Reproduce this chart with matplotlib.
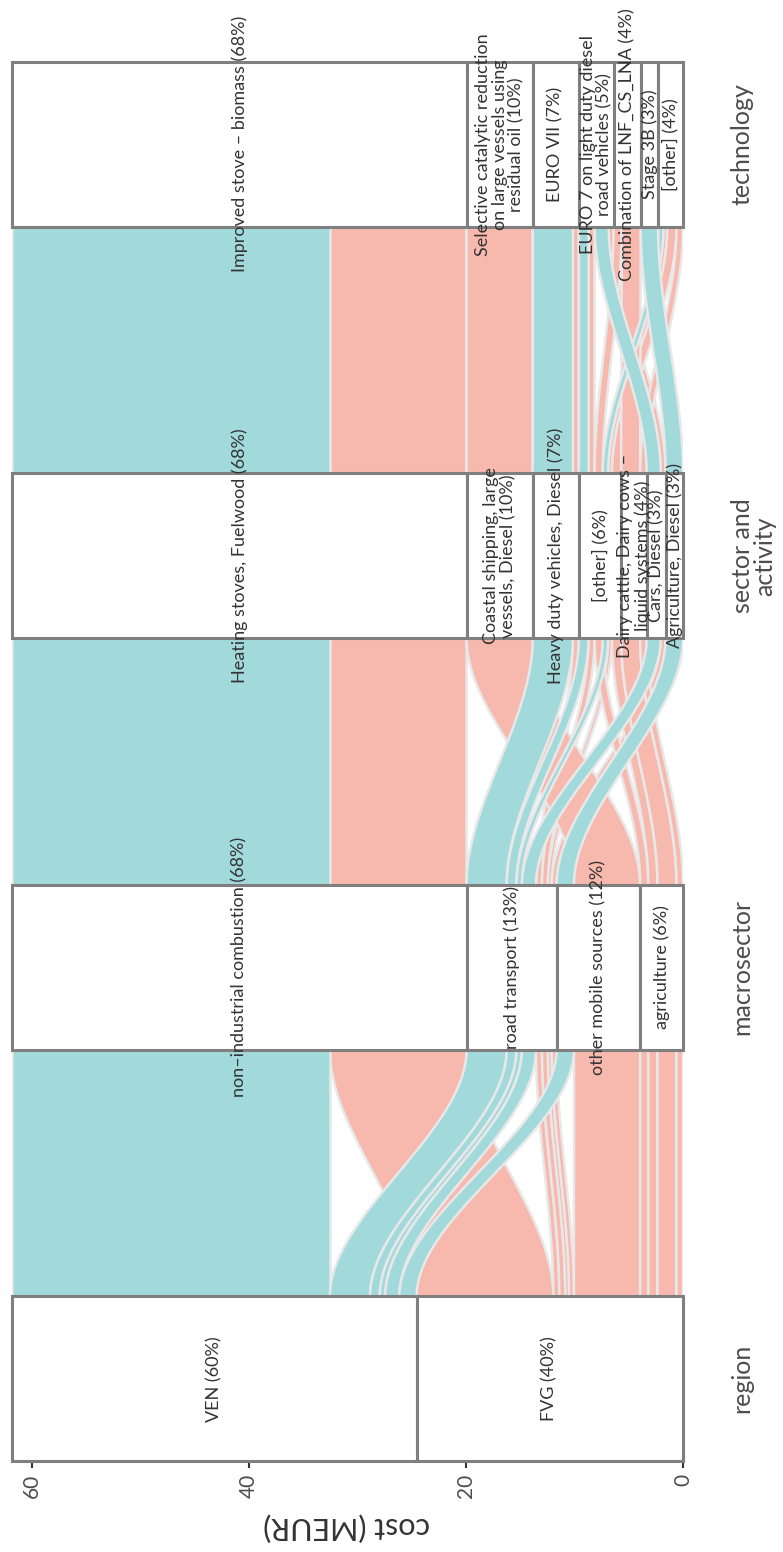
"""Alluvial diagram of emission-reduction cost by region, macrosector, sector and technology."""
import numpy as np
import matplotlib
matplotlib.use("Agg")
import matplotlib.pyplot as plt
import matplotlib.transforms as mtransforms
from matplotlib.patches import Rectangle

plt.rcParams['font.family'] = ['Lato', 'DejaVu Sans']

# %%
# data: the strata of each stage (stacking order, first = top of stack)
stages = ["region", "macrosector", "sector and\nactivity", "technology"]
regions = ["VEN", "FVG"]
macrosectors = ["non–industrial combustion", "road transport",
                "other mobile sources", "agriculture"]
sectors = ["Heating stoves, Fuelwood", "Coastal shipping, large\nvessels, Diesel",
           "Heavy duty vehicles, Diesel", "[other]",
           "Dairy cattle, Dairy cows –\nliquid systems", "Cars, Diesel",
           "Agriculture, Diesel"]
technologies = ["Improved stove – biomass",
                "Selective catalytic reduction\non large vessels using\nresidual oil",
                "EURO VII", "EURO 7 on light duty diesel\nroad vehicles",
                "Combination of LNF_CS_LNA", "Stage 3B", "[other]"]

# one entry per alluvium (indices into the lists above), cost in MEUR
al_region = [0, 0, 0, 0, 0, 0, 1, 1, 1, 1, 1, 1, 1, 1, 1, 1]
al_macro = [0, 1, 1, 1, 1, 2, 0, 1, 1, 1, 1, 2, 3, 3, 3, 3]
al_sector = [0, 2, 3, 3, 5, 6, 0, 2, 3, 3, 5, 1, 3, 3, 4, 4]
al_tech = [0, 2, 3, 6, 3, 5, 0, 2, 3, 6, 3, 1, 4, 6, 4, 6]
al_cost = [29.3, 3.7, 0.9, 0.5, 1.3, 1.6,
           12.6, 0.55, 0.55, 0.35, 0.45, 6.1, 0.75, 0.85, 1.75, 0.6]

# %%
strata = [regions, macrosectors, sectors, technologies]
codes = np.array([al_region, al_macro, al_sector, al_tech])
cost = np.array(al_cost)
total = cost.sum()
n_ax = len(stages)
width = 0.4
pos = np.arange(1, n_ax + 1)

teal = "#A2D9DB"
salmon = "#F7B8AE"
fill_cols = [teal, salmon]
txt_col = "#333333"

# lode order at each axis (ggalluvial "zigzag" guidance)
zigzag = [[0, 1, 2, 3], [1, 0, 2, 3], [2, 3, 1, 0], [3, 2, 1, 0]]
lo = np.zeros((n_ax, len(cost)))
hi = np.zeros((n_ax, len(cost)))
for k in range(n_ax):
    order = sorted(range(len(cost)), key=lambda a: tuple(codes[j, a] for j in zigzag[k]))
    top = total
    for a in order:
        hi[k, a] = top
        lo[k, a] = top - cost[a]
        top = lo[k, a]

fig = plt.figure(figsize=(7.83, 15.52), dpi=100)
ax = fig.add_axes([12 / 783, 91 / 1552, 671 / 783, 1399 / 1552])

t = np.linspace(0, 1, 60)
s = t * t * (3 - 2 * t)


def edge_path(vals):
    ys, xs = [], []
    for k in range(n_ax):
        ys += [pos[k] - width / 2, pos[k] + width / 2]
        xs += [vals[k], vals[k]]
        if k < n_ax - 1:
            y0 = pos[k] + width / 2
            y1 = pos[k + 1] - width / 2
            ys += list(y0 + (y1 - y0) * t)
            xs += list(vals[k] + (vals[k + 1] - vals[k]) * s)
    return np.array(xs), np.array(ys)


# FVG first so VEN ribbons sit on top
for a in sorted(range(len(cost)), key=lambda a: -al_region[a]):
    xh, yh = edge_path(hi[:, a])
    xl, yl = edge_path(lo[:, a])
    ax.fill(np.concatenate([xh, xl[::-1]]), np.concatenate([yh, yl[::-1]]),
            facecolor=fill_cols[al_region[a]], edgecolor="#E8E8E8", lw=1.8, zorder=2)

# strata boxes with labels
for k in range(n_ax):
    top = total
    for i, name in enumerate(strata[k]):
        v = cost[codes[k] == i].sum()
        ax.add_patch(Rectangle((top - v, pos[k] - width / 2), v, width,
                               facecolor="white", edgecolor="#7F7F7F", lw=2.2,
                               zorder=3, clip_on=False))
        ax.text(top - v / 2, pos[k], f"{name} ({round(100 * v / total)}%)",
                rotation=90, ha="center", va="center", multialignment="center",
                fontsize=13, color=txt_col, zorder=4, linespacing=1.05)
        top -= v

ax.set_xlim(total, 0)
ax.set_ylim(pos[0] - width / 2, pos[-1] + width / 2)
for sp in ax.spines.values():
    sp.set_visible(False)
ax.set_xticks([0, 20, 40, 60])
ax.set_xticklabels(["0", "20", "40", "60"], rotation=90, fontsize=15,
                   color="#4D4D4D")
ax.tick_params(axis="x", length=5, width=1.5, color="#333333", pad=4)
ax.set_yticks([])

trans = mtransforms.blended_transform_factory(ax.transAxes, ax.transData)
for k, lab in enumerate(stages):
    ax.text(1.071, pos[k], lab, transform=trans, rotation=90, ha="left",
            va="center", multialignment="center", fontsize=18,
            color="#4D4D4D", linespacing=1.0)

fig.text(347 / 783, 1 - 1527 / 1552, "cost (MEUR)", rotation=180, ha="center",
         va="center", fontsize=22, color="#333333")

fig.savefig("out.png", dpi=100)
